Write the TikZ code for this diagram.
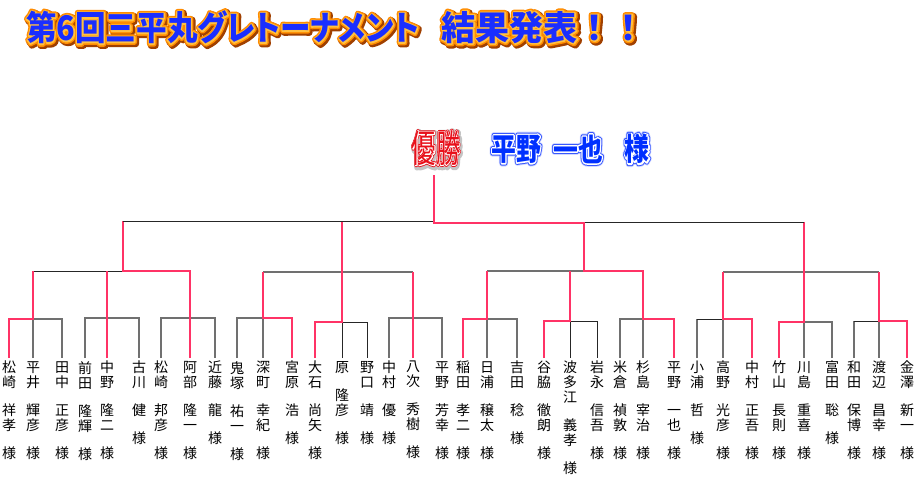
\documentclass[tikz,border=0pt]{standalone}
\usepackage{fontspec}
\usepackage{graphicx}
\newfontfamily\jp{Noto Sans CJK JP}
\newfontfamily\jpt{Noto Sans CJK JP}[RawFeature=+palt]
\definecolor{rline}{HTML}{FF3366}
\definecolor{gline}{HTML}{707070}
\definecolor{tblue}{HTML}{1A2EFF}
\definecolor{torange}{HTML}{FF8C00}
\definecolor{tyellow}{HTML}{FFC040}
\definecolor{tshadow}{HTML}{A04000}
\definecolor{cred}{HTML}{E8101A}
\definecolor{cglow}{HTML}{C4C4C4}
\definecolor{cblue}{HTML}{0030FF}
\definecolor{cblue2}{HTML}{3858FF}
\definecolor{cbglow}{HTML}{D0D8FF}
\newcommand\TitleA{\resizebox{393pt}{\height}{\jpt\bfseries\fontsize{34}{34}\selectfont 第6回三平丸グレトーナメント}}
\newcommand\TitleB{{\jp\bfseries\fontsize{34}{34}\selectfont 結果発表！！}}
\newcommand\Yusho{\scalebox{0.64}[1]{\jp\fontsize{38}{38}\selectfont 優勝}}
\newcommand\ChA{\scalebox{0.8}[1]{\jp\bfseries\fontsize{31}{31}\selectfont 平野}}
\newcommand\ChB{\scalebox{0.8}[1]{\jp\bfseries\fontsize{31}{31}\selectfont 一也}}
\newcommand\ChC{\scalebox{0.8}[1]{\jp\bfseries\fontsize{31}{31}\selectfont 様}}
% stroked (outlined) text: #1 stroke width, #2 text
\newcommand\stk[2]{\special{pdf:literal direct 2 Tr #1 w 1 j 1 J}#2\special{pdf:literal direct 0 Tr}}
\tikzset{
  nm/.style={anchor=north, inner xsep=0pt, inner ysep=3pt, align=center,
             font=\jp\fontsize{14}{15}\selectfont},
  lay/.style={inner sep=0pt},
  rl/.style={draw=rline, line width=2pt},
  gl/.style={draw=gline, line width=1.3pt},
  bl/.style={draw=black!85, line width=0.9pt},
}
\begin{document}
\begin{tikzpicture}[x=1pt,y=-1pt]
\fill[white] (0,0) rectangle (917,482);
\useasboundingbox (0,0) rectangle (917,482);

% ---------- title ----------
\coordinate (tA) at (26,27.5);
\coordinate (tAsh) at (27.5,29);
\coordinate (tB) at (441.5,27.5);
\coordinate (tBsh) at (443,29);
\node[lay,text=tshadow,anchor=west] (tAs) at (tAsh) {\stk{7}{\TitleA}};
\node[lay,text=torange,anchor=west] (tAo) at (tA) {\stk{5.6}{\TitleA}};
\node[lay,text=tyellow,anchor=west] (tAy) at (tA) {\stk{2.6}{\TitleA}};
\node[lay,text=tblue,anchor=west] (titleA) at (tA) {\TitleA};
\node[lay,text=tshadow,anchor=west] (tBs) at (tBsh) {\stk{7}{\TitleB}};
\node[lay,text=torange,anchor=west] (tBo) at (tB) {\stk{5.6}{\TitleB}};
\node[lay,text=tyellow,anchor=west] (tBy) at (tB) {\stk{2.6}{\TitleB}};
\node[lay,text=tblue,anchor=west] (titleB) at (tB) {\TitleB};

% ---------- champion ----------
\coordinate (ch) at (436,148);
\coordinate (chs) at (437,149.5);
\node[lay,text=cglow] (chg) at (chs) {\stk{7}{\Yusho}};
\node[lay,text=cred] (chr) at (ch) {\stk{3.4}{\Yusho}};
\node[lay,text=white] (chw) at (ch) {\stk{1.6}{\Yusho}};
\node[lay,text=cred] (champ) at (ch) {\Yusho};

\coordinate (cw1) at (516,149);
\coordinate (cw2) at (578,149);
\coordinate (cw3) at (637,149);
\node[lay,text=cbglow] (wAg) at (cw1) {\stk{6.8}{\ChA}};
\node[lay,text=cblue2] (wAb) at (cw1) {\stk{5}{\ChA}};
\node[lay,text=white] (wAw) at (cw1) {\stk{3}{\ChA}};
\node[lay,text=cblue] (winA) at (cw1) {\ChA};
\node[lay,text=cbglow] (wBg) at (cw2) {\stk{6.8}{\ChB}};
\node[lay,text=cblue2] (wBb) at (cw2) {\stk{5}{\ChB}};
\node[lay,text=white] (wBw) at (cw2) {\stk{3}{\ChB}};
\node[lay,text=cblue] (winB) at (cw2) {\ChB};
\node[lay,text=cbglow] (wCg) at (cw3) {\stk{6.8}{\ChC}};
\node[lay,text=cblue2] (wCb) at (cw3) {\stk{5}{\ChC}};
\node[lay,text=white] (wCw) at (cw3) {\stk{3}{\ChC}};
\node[lay,text=cblue] (winC) at (cw3) {\ChC};

% ---------- players ----------
\node[nm] (n1) at (9,358) {松\\崎\\[13pt]祥\\孝\\[13pt]様};
\node[nm] (n2) at (33,358) {平\\井\\[13pt]輝\\彦\\[13pt]様};
\node[nm] (n3) at (62,358) {田\\中\\[13pt]正\\彦\\[13pt]様};
\node[nm] (n4) at (85,358) {前\\田\\[13pt]隆\\輝\\[13pt]様};
\node[nm] (n5) at (107,358) {中\\野\\[13pt]隆\\二\\[13pt]様};
\node[nm] (n6) at (139,358) {古\\川\\[13pt]健\\[13pt]様};
\node[nm] (n7) at (161,358) {松\\崎\\[13pt]邦\\彦\\[13pt]様};
\node[nm] (n8) at (190,358) {阿\\部\\[13pt]隆\\一\\[13pt]様};
\node[nm] (n9) at (215,358) {近\\藤\\[13pt]龍\\[13pt]様};
\node[nm] (n10) at (237,358) {鬼\\塚\\[13pt]祐\\一\\[13pt]様};
\node[nm] (n11) at (263,358) {深\\町\\[13pt]幸\\紀\\[13pt]様};
\node[nm] (n12) at (292,358) {宮\\原\\[13pt]浩\\[13pt]様};
\node[nm] (n13) at (315,358) {大\\石\\[13pt]尚\\矢\\[13pt]様};
\node[nm] (n14) at (342,358) {原\\[13pt]隆\\彦\\[13pt]様};
\node[nm] (n15) at (367,358) {野\\口\\[13pt]靖\\[13pt]様};
\node[nm] (n16) at (389,358) {中\\村\\[13pt]優\\[13pt]様};
\node[nm] (n17) at (413,358) {八\\次\\[13pt]秀\\樹\\[13pt]様};
\node[nm] (n18) at (442,358) {平\\野\\[13pt]芳\\幸\\[13pt]様};
\node[nm] (n19) at (463,358) {稲\\田\\[13pt]孝\\二\\[13pt]様};
\node[nm] (n20) at (487,358) {日\\浦\\[13pt]穣\\太\\[13pt]様};
\node[nm] (n21) at (517,358) {吉\\田\\[13pt]稔\\[13pt]様};
\node[nm] (n22) at (544,358) {谷\\脇\\[13pt]徹\\朗\\[13pt]様};
\node[nm] (n23) at (570,358) {波\\多\\江\\[13pt]義\\孝\\[13pt]様};
\node[nm] (n24) at (597,358) {岩\\永\\[13pt]信\\吾\\[13pt]様};
\node[nm] (n25) at (620,358) {米\\倉\\[13pt]禎\\敦\\[13pt]様};
\node[nm] (n26) at (643,358) {杉\\島\\[13pt]宰\\治\\[13pt]様};
\node[nm] (n27) at (674,358) {平\\野\\[13pt]一\\也\\[13pt]様};
\node[nm] (n28) at (697,358) {小\\浦\\[13pt]哲\\[13pt]様};
\node[nm] (n29) at (723,358) {高\\野\\[13pt]光\\彦\\[13pt]様};
\node[nm] (n30) at (752,358) {中\\村\\[13pt]正\\吾\\[13pt]様};
\node[nm] (n31) at (779,358) {竹\\山\\[13pt]長\\則\\[13pt]様};
\node[nm] (n32) at (804,358) {川\\島\\[13pt]重\\喜\\[13pt]様};
\node[nm] (n33) at (832,358) {富\\田\\[13pt]聡\\[13pt]様};
\node[nm] (n34) at (854,358) {和\\田\\[13pt]保\\博\\[13pt]様};
\node[nm] (n35) at (879,358) {渡\\辺\\[13pt]昌\\幸\\[13pt]様};
\node[nm] (n36) at (907,358) {金\\澤\\[13pt]新\\一\\[13pt]様};

% ---------- levels ----------
\coordinate (Y318) at (0,318);
\coordinate (Y319) at (0,319);
\coordinate (Y321) at (0,321);
\coordinate (Y322) at (0,322);
\coordinate (G271) at (0,271);
\coordinate (G272) at (0,272);
\coordinate (T221) at (0,221);
\coordinate (T222) at (0,222);
\coordinate (T223) at (0,223);
\coordinate (c1) at (123,0);
\coordinate (c3) at (584,0);
\coordinate (c0) at (434,0);
\coordinate (c0top) at (434,175);

% ---------- group 1 ----------
\draw[gl] (n2.north) -- (n2|-Y319) -- (n3|-Y319) -- (n3.north);
\draw[gl] (n4.north) -- (n4|-Y318) -- (n6|-Y318) -- (n6.north);
\draw[gl] (n7.north) -- (n7|-Y318) -- (n9|-Y318) -- (n9.north);
\draw[bl] (n2|-G271) -- (c1|-G271);
\draw[rl] (n1.north) -- (n1|-Y319) -- (n2|-Y319) -- (n2|-G271);
\draw[rl] (n5.north) -- (n5|-G271);
\draw[rl] (n8.north) -- (n8|-G271) -- (c1|-G271) -- (c1|-T221);

% ---------- group 2 ----------
\draw[gl] (n11|-G272) -- (n17|-G272);
\draw[gl] (n10.north) -- (n10|-Y318) -- (n11|-Y318) -- (n11.north);
\draw[bl] (n14.north) -- (n14|-Y322) -- (n15|-Y322) -- (n15.north);
\draw[gl] (n16.north) -- (n16|-Y318) -- (n18|-Y318) -- (n18.north);
\draw[rl] (n12.north) -- (n12|-Y318) -- (n11|-Y318) -- (n11|-G272);
\draw[rl] (n13.north) -- (n13|-Y322) -- (n14|-Y322) -- (n14|-T221);
\draw[rl] (n17.north) -- (n17|-G272);

% ---------- group 3 ----------
\draw[gl] (n20|-G271) -- (c3|-G271);
\draw[gl] (n20.north) -- (n20|-Y319) -- (n21|-Y319) -- (n21.north);
\draw[bl] (n23.north) -- (n23|-Y321) -- (n24|-Y321) -- (n24.north);
\draw[gl] (n25.north) -- (n25|-Y319) -- (n26|-Y319) -- (n26.north);
\draw[rl] (n19.north) -- (n19|-Y319) -- (n20|-Y319) -- (n20|-G271);
\draw[rl] (n22.north) -- (n22|-Y321) -- (n23|-Y321) -- (n23|-G271);

% ---------- group 4 ----------
\draw[gl] (n29|-G272) -- (n35|-G272);
\draw[gl] (n28.north) -- (n28|-Y319);
\draw[bl] (n28|-Y319) -- (n29|-Y319);
\draw[gl] (n29|-Y319) -- (n29.north);
\draw[gl] (n33.north) -- (n33|-Y322) -- (n32|-Y322) -- (n32.north);
\draw[gl] (n34.north) -- (n34|-Y321);
\draw[bl] (n34|-Y321) -- (n35|-Y321);
\draw[gl] (n35|-Y321) -- (n35.north);
\draw[rl] (n30.north) -- (n30|-Y319) -- (n29|-Y319) -- (n29|-G272);
\draw[rl] (n31.north) -- (n31|-Y322) -- (n32|-Y322) -- (n32|-T222);
\draw[rl] (n36.north) -- (n36|-Y321) -- (n35|-Y321) -- (n35|-G272);

% ---------- final ----------
\draw[bl] (c1|-T221) -- (c0|-T221);
\draw[bl] (c3|-T222) -- (n32|-T222);
\draw[rl] (n27.north) -- (n27|-Y319) -- (n26|-Y319) -- (n26|-G271) -- (c3|-G271)
          -- (c3|-T223) -- (c0|-T223) -- (c0top);
\end{tikzpicture}
\end{document}
